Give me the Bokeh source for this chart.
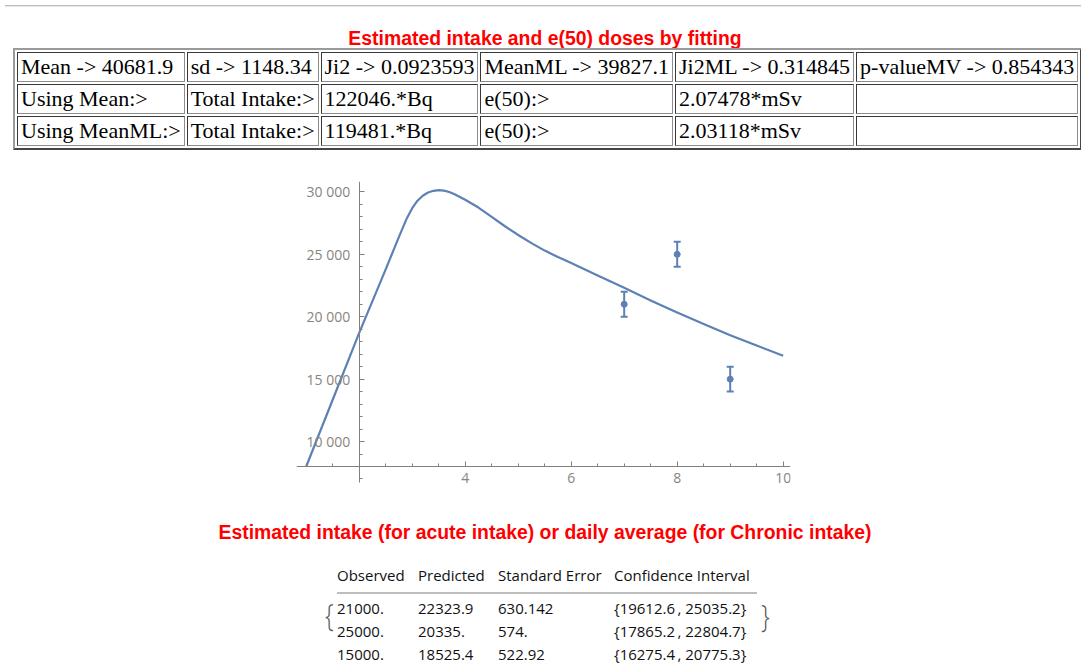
from bokeh.plotting import figure
from bokeh.models import (ColumnDataSource, Div, FixedTicker, LinearAxis, Range1d,
                          TeeHead, Whisker)
from bokeh.layouts import column
from bokeh.embed import file_html
from bokeh.resources import INLINE

# ---- fitted summary (top table) ----
fit_mean = 40681.9
fit_sd = 1148.34
fit_ji2 = 0.0923593
fit_mean_ml = 39827.1
fit_ji2_ml = 0.314845
fit_p_value_mv = 0.854343
intake_mean_bq = 122046
intake_mean_ml_bq = 119481
e50_mean_msv = 2.07478
e50_mean_ml_msv = 2.03118

# ---- measurements with error bars ----
obs_t = [7, 8, 9]
observed = [21000, 25000, 15000]
obs_err = [1000, 1000, 1000]

# ---- fitted retention curve ----
curve_t = [1.0, 1.5, 2.0, 2.5, 2.75, 2.9, 3.0, 3.1, 3.2, 3.3, 3.4, 3.5, 3.6,
           3.7, 3.8, 3.9, 4.0, 4.25, 4.5, 4.75, 5.0, 5.25, 5.5, 5.75, 6.0,
           6.5, 7.0, 7.5, 8.0, 8.5, 9.0, 9.5, 10.0]
curve_y = [8000, 13350, 18700, 23800, 26400, 27900, 28700, 29300, 29700,
           29950, 30090, 30140, 30110, 30000, 29820, 29600, 29380, 28750,
           28000, 27250, 26550, 25900, 25300, 24780, 24300, 23300, 22323.9,
           21310, 20335.0, 19410, 18525.4, 17690, 16880]

# ---- prediction table (bottom) ----
predicted = [22323.9, 20335.0, 18525.4]
std_error = [630.142, 574.0, 522.92]
ci_low = [19612.6, 17865.2, 16275.4]
ci_high = [25035.2, 22804.7, 20775.3]
table_headers = ["Observed", "Predicted", "Standard Error", "Confidence Interval"]

# ---- axis ticks ----
x_major = [4, 6, 8, 10]
y_major = [10000, 15000, 20000, 25000, 30000]

BLUE = "#5E81B5"
AXIS_GRAY = "#808080"
LABEL_GRAY = "#888480"


def mfmt(v):
    """Mathematica-like number display: 21000. / 22323.9"""
    if float(v).is_integer():
        return f"{int(v)}."
    return f"{v:g}"


# ------------------------------------------------------------------ top block
td = ("border:1px inset #8c8c8c;padding:1px 3px;white-space:nowrap;"
      "text-align:left;vertical-align:middle;line-height:normal;")
top_rows = [
    [f"Mean -&gt; {fit_mean:g}", f"sd -&gt; {fit_sd:g}", f"Ji2 -&gt; {fit_ji2:g}",
     f"MeanML -&gt; {fit_mean_ml:g}", f"Ji2ML -&gt; {fit_ji2_ml:g}",
     f"p-valueMV -&gt; {fit_p_value_mv:g}"],
    ["Using Mean:&gt;", "Total Intake:&gt;", f"{intake_mean_bq}.*Bq", "e(50):&gt;",
     f"{e50_mean_msv:g}*mSv", ""],
    ["Using MeanML:&gt;", "Total Intake:&gt;", f"{intake_mean_ml_bq}.*Bq", "e(50):&gt;",
     f"{e50_mean_ml_msv:g}*mSv", ""],
]
rows_html = "".join(
    "<tr>" + "".join(f'<td style="{td}">{c}</td>' for c in row) + "</tr>"
    for row in top_rows
)
top_html = f"""
<div style="position:relative;width:1081px;height:152px;margin:0;padding:0;">
  <div style="position:absolute;left:5px;top:5px;width:1076px;height:0;
       border-top:1px solid #bdbdbd;border-bottom:1px solid #e6e6e6;"></div>
  <div style="position:absolute;left:9px;top:27px;width:1072px;text-align:center;
       font-family:'Liberation Sans',Arial,sans-serif;font-weight:bold;font-size:19.4px;
       line-height:22px;color:#ff0000;white-space:nowrap;">Estimated intake and e(50) doses by fitting</div>
  <table style="position:absolute;left:13px;top:48px;border-collapse:separate;
         border-spacing:2px 2px;border:2px outset #9a9a9a;line-height:normal;
         font-family:'Liberation Serif','Times New Roman',serif;font-size:22px;color:#000;">
    {rows_html}
  </table>
</div>
"""
top_div = Div(text=top_html, width=1081, height=152, margin=0)

# ------------------------------------------------------------------ plot
# the frame reaches a little below the visible y-axis so that the x tick
# labels (drawn inside the frame) are not clipped; the axis itself is bounded
y_lo, y_hi = 6718, 30837
p = figure(width=1081, height=348, title=None,
           x_range=Range1d(0.817, 10.138), y_range=Range1d(5676, y_hi),
           x_axis_location=None, y_axis_location=None,
           toolbar_location=None, output_backend="svg",
           min_border_left=296, min_border_right=291,
           min_border_top=29, min_border_bottom=5, margin=0)
p.outline_line_color = None
p.background_fill_color = "white"
p.border_fill_color = "white"
p.grid.visible = False

xaxis = LinearAxis(
    fixed_location=8000,
    ticker=FixedTicker(ticks=x_major, minor_ticks=[1 + 0.5 * i for i in range(19)]),
    axis_line_color=AXIS_GRAY, axis_line_width=1,
    major_tick_line_color=AXIS_GRAY, minor_tick_line_color=AXIS_GRAY,
    major_tick_in=5, major_tick_out=0, minor_tick_in=3, minor_tick_out=0,
    major_label_standoff=7,
    major_label_text_font="Open Sans", major_label_text_font_size="14px",
    major_label_text_color=LABEL_GRAY,
)
yaxis = LinearAxis(
    fixed_location=2, bounds=(y_lo, y_hi),
    ticker=FixedTicker(ticks=y_major, minor_ticks=list(range(7000, 31000, 1000))),
    major_label_overrides={v: f"{v:,}".replace(",", " ") for v in y_major},
    axis_line_color=AXIS_GRAY, axis_line_width=1,
    major_tick_line_color=AXIS_GRAY, minor_tick_line_color=AXIS_GRAY,
    major_tick_in=5, major_tick_out=0, minor_tick_in=3, minor_tick_out=0,
    major_label_standoff=9,
    major_label_text_font="Open Sans", major_label_text_font_size="14px",
    major_label_text_color=LABEL_GRAY,
)
p.add_layout(xaxis, "below")
p.add_layout(yaxis, "left")

p.line(curve_t, curve_y, line_color=BLUE, line_width=2.2, line_join="round")

obs_src = ColumnDataSource(data=dict(
    t=obs_t, y=observed,
    lo=[v - e for v, e in zip(observed, obs_err)],
    hi=[v + e for v, e in zip(observed, obs_err)],
))
p.add_layout(Whisker(source=obs_src, base="t", lower="lo", upper="hi",
                     line_color=BLUE, line_width=2,
                     lower_head=TeeHead(size=7, line_color=BLUE, line_width=2),
                     upper_head=TeeHead(size=7, line_color=BLUE, line_width=2)))
p.scatter("t", "y", source=obs_src, size=6, color=BLUE)

# ------------------------------------------------------------------ bottom block
col_x = [337, 418, 498, 614]
row_tops = [97.5, 120.9, 144.2]
cell = ("position:absolute;font-family:'Open Sans',sans-serif;font-size:15px;"
        "line-height:20px;color:#111;white-space:nowrap;")
parts = []
for x, h in zip(col_x, table_headers):
    parts.append(f'<div style="{cell}left:{x}px;top:65.2px;">{h}</div>')
for i, top in enumerate(row_tops):
    texts = [mfmt(observed[i]), mfmt(predicted[i]), mfmt(std_error[i]),
             "{" + mfmt(ci_low[i]) + "\u2009, " + mfmt(ci_high[i]) + "}"]
    for x, t in zip(col_x, texts):
        parts.append(f'<div style="{cell}left:{x}px;top:{top}px;">{t}</div>')
brace = ("position:absolute;font-family:'Open Sans',sans-serif;font-weight:300;"
         "font-size:31px;line-height:40px;color:#555;transform:scaleX(0.8);")
parts.append(f'<div style="{brace}left:324px;top:94px;">{{</div>')
parts.append(f'<div style="{brace}left:760px;top:95px;">}}</div>')

bottom_html = f"""
<div style="position:relative;width:1081px;height:170px;margin:0;padding:0;">
  <div style="position:absolute;left:9px;top:21px;width:1072px;text-align:center;
       font-family:'Liberation Sans',Arial,sans-serif;font-weight:bold;font-size:19.4px;
       line-height:22px;color:#ff0000;white-space:nowrap;">Estimated intake (for acute intake) or daily average (for Chronic intake)</div>
  <div style="position:absolute;left:337px;top:92px;width:420px;height:2px;background:#bdbdbd;"></div>
  {''.join(parts)}
</div>
"""
bottom_div = Div(text=bottom_html, width=1081, height=170, margin=0)

page = column(top_div, p, bottom_div, spacing=0, margin=0)

with open("out.html", "w") as f:
    f.write(file_html(page, INLINE))
